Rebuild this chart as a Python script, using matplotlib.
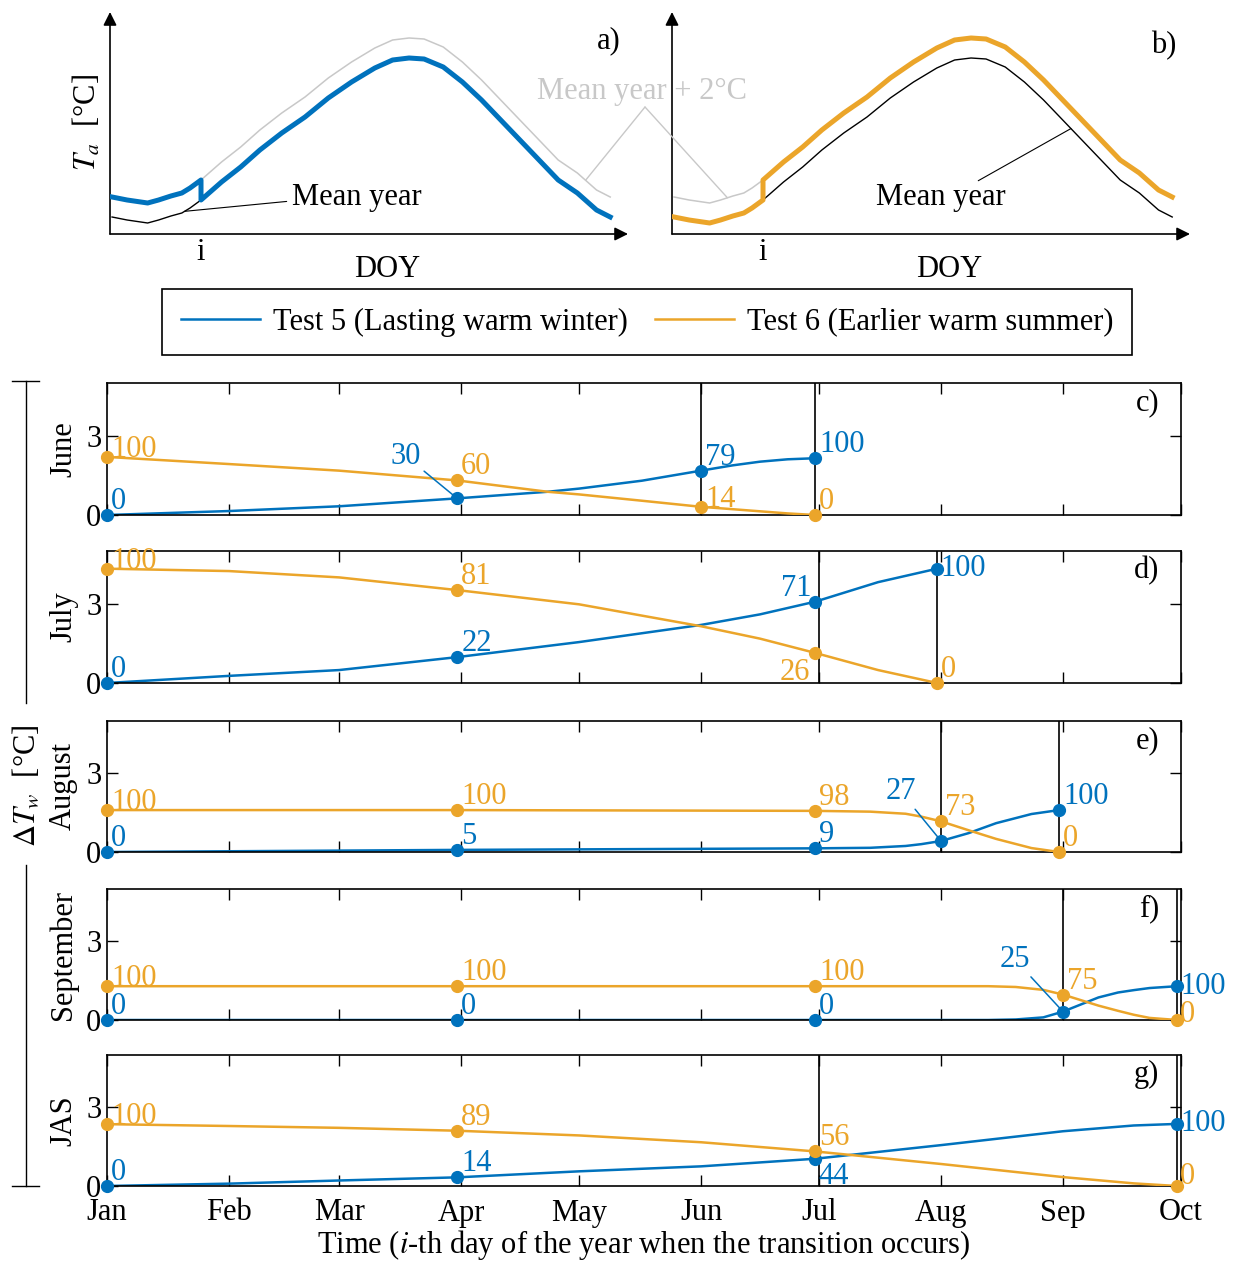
import numpy as np
import matplotlib.pyplot as plt
from matplotlib.lines import Line2D

plt.rcParams['font.family'] = ['Liberation Serif', 'DejaVu Serif']
plt.rcParams['mathtext.fontset'] = 'stix'
plt.rcParams['font.size'] = 22
plt.rcParams['axes.linewidth'] = 1.2

BLUE = '#0072BD'
ORANGE = '#EBA52A'
GRAY = '#C8C8C8'
W, H = 1234, 1262

# mean year air temperature (sketch panels a, b)
mean_doy = [1, 12, 27, 35, 44, 52, 58, 66, 81, 95, 109, 125, 142, 159, 176, 193,
            206, 218, 229, 243, 257, 271, 285, 299, 313, 327, 341, 355, 365]
mean_temp = [1.7, 1.4, 1.1, 1.4, 1.8, 2.1, 2.6, 3.4, 5.2, 6.7, 8.4, 10.1, 11.7,
             13.6, 15.2, 16.6, 17.4, 17.6, 17.5, 16.7, 15.2, 13.4, 11.4, 9.4,
             7.4, 5.4, 4.1, 2.4, 1.7]
warm_offset = 2.0
doy_i = 66

months = ['Jan', 'Feb', 'Mar', 'Apr', 'May', 'Jun', 'Jul', 'Aug', 'Sep', 'Oct']
month_doy = [1, 32, 60, 91, 121, 152, 182, 213, 244, 274]

# June
june_doy = [1, 32, 60, 90, 113, 121, 137, 152, 160, 167, 174, 181]
june_test5 = [0, 0.15, 0.33, 0.63, 0.88, 1.0, 1.3, 1.68, 1.88, 2.02, 2.11, 2.15]
june_test6 = [2.2, 1.93, 1.68, 1.31, 0.88, 0.78, 0.54, 0.31, 0.22, 0.14, 0.06, 0.0]
june_marks = [1, 90, 152, 181]
june_pct5 = [0, 30, 79, 100]
june_pct6 = [100, 60, 14, 0]

# July
july_doy = [1, 32, 60, 90, 121, 152, 167, 181, 197, 212]
july_test5 = [0, 0.27, 0.49, 0.98, 1.55, 2.2, 2.6, 3.08, 3.82, 4.33]
july_test6 = [4.33, 4.24, 4.0, 3.52, 2.98, 2.15, 1.68, 1.14, 0.49, 0]
july_marks = [1, 90, 181, 212]
july_pct5 = [0, 22, 71, 100]
july_pct6 = [100, 81, 26, 0]

# August
aug_doy = [1, 90, 181, 195, 204, 208, 213, 220, 227, 236, 243]
aug_test5 = [0, 0.08, 0.14, 0.16, 0.23, 0.3, 0.42, 0.72, 1.1, 1.45, 1.6]
aug_test6 = [1.6, 1.6, 1.57, 1.54, 1.46, 1.35, 1.17, 0.83, 0.5, 0.15, 0]
aug_marks = [1, 90, 181, 213, 243]
aug_pct5 = [0, 5, 9, 27, 100]
aug_pct6 = [100, 100, 98, 73, 0]

# September
sep_doy = [1, 90, 181, 225, 232, 239, 244, 253, 258, 262, 266, 273]
sep_test5 = [0, 0, 0, 0, 0.02, 0.1, 0.32, 0.86, 1.05, 1.14, 1.22, 1.29]
sep_test6 = [1.29, 1.29, 1.29, 1.29, 1.26, 1.15, 0.97, 0.55, 0.35, 0.2, 0.08, 0]
sep_marks = [1, 90, 181, 244, 273]
sep_pct5 = [0, 0, 0, 25, 100]
sep_pct6 = [100, 100, 100, 75, 0]

# JAS
jas_doy = [1, 32, 60, 90, 121, 152, 181, 213, 244, 262, 273]
jas_test5 = [0, 0.09, 0.21, 0.33, 0.56, 0.75, 1.04, 1.56, 2.09, 2.31, 2.37]
jas_test6 = [2.36, 2.29, 2.22, 2.11, 1.93, 1.67, 1.32, 0.84, 0.34, 0.1, 0]
jas_marks = [1, 90, 181, 273]
jas_pct5 = [0, 14, 44, 100]
jas_pct6 = [100, 89, 56, 0]

panels = [
    ('June', 'c)', (152, 181), june_doy, june_test5, june_test6, june_marks, june_pct5, june_pct6),
    ('July', 'd)', (182, 212), july_doy, july_test5, july_test6, july_marks, july_pct5, july_pct6),
    ('August', 'e)', (213, 243), aug_doy, aug_test5, aug_test6, aug_marks, aug_pct5, aug_pct6),
    ('September', 'f)', (244, 273), sep_doy, sep_test5, sep_test6, sep_marks, sep_pct5, sep_pct6),
    ('JAS', 'g)', (182, 273), jas_doy, jas_test5, jas_test6, jas_marks, jas_pct5, jas_pct6),
]

# label placement exceptions: (dx px, dy px, ha, va, leader line)
label_place = {
    ('June', 5, 1): (-51, 42, 'center', 'center', True),
    ('June', 6, 2): (4, 0, 'left', 'baseline', False),
    ('July', 6, 2): (-5, -5, 'right', 'top', False),
    ('July', 5, 2): (-4, 6, 'right', 'baseline', False),
    ('July', 5, 3): (3, 0, 'left', 'center', False),
    ('August', 5, 3): (-40, 49, 'center', 'center', True),
    ('September', 5, 3): (-48, 52, 'center', 'center', True),
    ('September', 5, 4): (3, 0, 'left', 'center', False),
    ('September', 6, 4): (3, 6, 'left', 'center', False),
    ('JAS', 5, 2): (3, -3, 'left', 'top', False),
    ('JAS', 5, 3): (3, 0, 'left', 'center', False),
    ('JAS', 6, 3): (3, 9, 'left', 'center', False),
}


def rect(left, top, right, bottom):
    return [left / W, 1 - bottom / H, (right - left) / W, (bottom - top) / H]


fig = plt.figure(figsize=(W / 100, H / 100), dpi=100)

# ---- sketch panels a) and b)
mdoy = np.array(mean_doy)
mtemp = np.array(mean_temp)
before = mdoy <= doy_i
after = mdoy >= doy_i
jump_x = np.concatenate([mdoy[before], mdoy[after]])

ax_a = fig.add_axes(rect(110, 12, 628, 234))
ax_b = fig.add_axes(rect(672, 12, 1190, 234))
for ax, tag, tx, ty in [(ax_a, 'a)', 0.985, 0.87), (ax_b, 'b)', 0.973, 0.85)]:
    for s in ax.spines.values():
        s.set_visible(False)
    arrow = dict(arrowstyle='-|>', lw=1.2, color='k', mutation_scale=20,
                 shrinkA=0, shrinkB=0)
    ax.annotate('', xy=(1, 0), xytext=(0, 0), xycoords='axes fraction', arrowprops=arrow)
    ax.annotate('', xy=(0, 1), xytext=(0, 0), xycoords='axes fraction', arrowprops=arrow)
    ax.set_xlim(-0.5, 378)
    ax.set_ylim(0, 22.2)
    ax.set_xticks([doy_i])
    ax.set_xticklabels(['i'])
    ax.set_yticks([])
    ax.tick_params(axis='x', length=0, pad=3)
    ax.set_xlabel('DOY')
    ax.xaxis.set_label_coords(0.535, -0.095)
    ax.plot(mdoy, mtemp + warm_offset, color=GRAY, lw=1.1, zorder=1)
    ax.plot(mdoy, mtemp, color='k', lw=1.0, zorder=2)
    ax.text(tx, ty, tag, transform=ax.transAxes, ha='right', va='center')

ax_a.plot(jump_x, np.concatenate([mtemp[before] + warm_offset, mtemp[after]]),
          color=BLUE, lw=3.6, zorder=3)
ax_b.plot(jump_x, np.concatenate([mtemp[before], mtemp[after] + warm_offset]),
          color=ORANGE, lw=3.6, zorder=3)
ax_a.set_ylabel(r'$T_a$  [°C]')
ax_a.yaxis.set_label_coords(-0.013, 0.5)

ax_a.annotate('Mean year', xy=(54, np.interp(54, mdoy, mtemp)), xytext=(180, 3.6),
              ha='center', va='center',
              arrowprops=dict(arrowstyle='-', lw=0.8, color='k', relpos=(0, 0.4),
                              shrinkA=2, shrinkB=0))
ax_b.annotate('Mean year', xy=(291, np.interp(291, mdoy, mtemp)), xytext=(196, 3.6),
              ha='center', va='center',
              arrowprops=dict(arrowstyle='-', lw=0.8, color='k', relpos=(0.75, 1),
                              shrinkA=0, shrinkB=0))
fig.text(642 / W, 1 - 92 / H, 'Mean year + 2°C', color=GRAY, ha='center', va='center')
gray_arm = dict(arrowstyle='-', lw=1.0, color=GRAY, shrinkA=0, shrinkB=0)
ax_a.annotate('', xy=(347, np.interp(347, mdoy, mtemp) + warm_offset),
              xytext=(645 / W, 1 - 107 / H), textcoords='figure fraction', arrowprops=gray_arm)
ax_b.annotate('', xy=(40, np.interp(40, mdoy, mtemp) + warm_offset),
              xytext=(645 / W, 1 - 107 / H), textcoords='figure fraction', arrowprops=gray_arm)

# ---- legend
handles = [Line2D([], [], color=BLUE, lw=1.8), Line2D([], [], color=ORANGE, lw=1.8)]
leg = fig.legend(handles, ['Test 5 (Lasting warm winter)', 'Test 6 (Earlier warm summer)'],
                 loc='center', bbox_to_anchor=(647 / W, 1 - 322 / H), ncol=2,
                 frameon=True, fancybox=False, edgecolor='k', framealpha=1,
                 handlelength=2.6, handletextpad=0.4, columnspacing=0.9, borderpad=0.62)
leg.get_frame().set_linewidth(1.2)

# ---- panels c) - g)
tops = [383, 551, 721, 889, 1055]
bottoms = [515, 683, 852, 1020, 1186]
px2pt = 0.72

for row, (name, tag, win, doy, t5, t6, marks, p5, p6) in enumerate(panels):
    ax = fig.add_axes(rect(107, tops[row], 1181, bottoms[row]))
    for w in win:
        ax.axvline(w, color='k', lw=1.2, zorder=1)
    for series, vals, pcts, color in [(5, t5, p5, BLUE), (6, t6, p6, ORANGE)]:
        ax.plot(doy, vals, color=color, lw=1.8, zorder=2 + series / 10)
        my = [vals[doy.index(d)] for d in marks]
        ax.plot(marks, my, 'o', color=color, ms=8.5, zorder=4, clip_on=False)
        for k, (d, y, p) in enumerate(zip(marks, my, pcts)):
            default_dy = 0 if (series == 6 and k == 0) else 6
            dx, dy, ha, va, leader = label_place.get((name, series, k),
                                                      (4, default_dy, 'left', 'baseline', False))
            props = None
            if leader:
                props = dict(arrowstyle='-', color=color, lw=1.1, shrinkA=0, shrinkB=0)
            ax.annotate(str(p), xy=(d, y), xytext=(dx * px2pt, dy * px2pt),
                        textcoords='offset points', ha=ha, va=va, color=color,
                        annotation_clip=False, arrowprops=props, zorder=5)
    ax.set_xlim(1, 274)
    ax.set_ylim(0, 5)
    ax.set_xticks(month_doy)
    ax.set_yticks([0, 3])
    ax.tick_params(direction='in', top=True, right=True, length=8, width=1.0)
    ax.tick_params(axis='x', pad=9)
    ax.tick_params(axis='y', pad=4)
    if row < len(panels) - 1:
        ax.tick_params(labelbottom=False)
    else:
        ax.set_xticklabels(months)
        ax.set_xlabel('Time ($i$-th day of the year when the transition occurs)', labelpad=0)
    ax.set_ylabel(name)
    ax.yaxis.set_label_coords(-0.027, 0.5)
    ax.text(0.98, 0.85, tag, transform=ax.transAxes, ha='right', va='center')

# ---- shared y label with bracket
lx = 26 / W
for y0, y1, yt in [(381, 703, 381), (865, 1186, 1186)]:
    fig.add_artist(Line2D([lx, lx], [1 - y0 / H, 1 - y1 / H], color='k', lw=1.0))
    fig.add_artist(Line2D([12 / W, 39 / W], [1 - yt / H] * 2, color='k', lw=1.0))
fig.text(27 / W, 1 - 786 / H, r'$\Delta T_w$  [°C]', rotation=90, ha='center', va='center')

fig.savefig('out.png', dpi=100)
